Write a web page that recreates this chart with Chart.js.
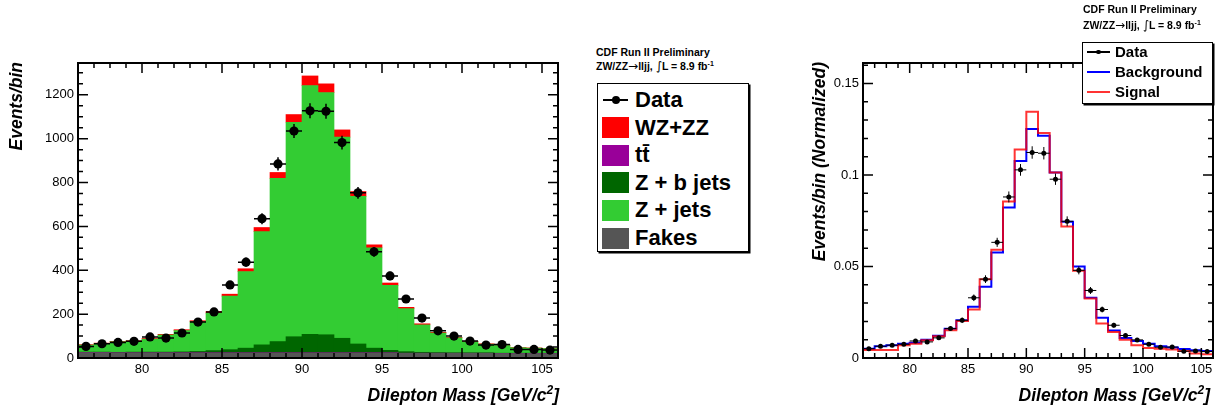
<!DOCTYPE html>
<html>
<head>
<meta charset="utf-8">
<title>Dilepton mass, ZW/ZZ → lljj</title>
<script src="https://cdn.jsdelivr.net/npm/chart.js@4.4.1/dist/chart.umd.min.js"></script>
<style>
  html, body { margin:0; padding:0; background:#fff; }
  body { width:1225px; height:411px; position:relative; overflow:hidden;
         font-family:"Liberation Sans", Arial, Helvetica, sans-serif; color:#000; }
  canvas { position:absolute; top:0; }
  #cLeft { left:0; }
  #cRight { left:780px; }
  .ytitle, .xtitle { position:absolute; font-weight:bold; font-style:italic; font-size:17.5px;
                     line-height:20px; white-space:nowrap; }
  .ytitle { width:300px; text-align:right; transform-origin:0 0; transform:rotate(-90deg); }
  .xtitle sup { font-size:12px; vertical-align:0.55em; line-height:0; }
  .hdr { position:absolute; font-weight:bold; font-size:10.5px; line-height:13px; white-space:nowrap; }
  .hdr sup { font-size:7px; vertical-align:0.55em; line-height:0; }
  .hdr .sym { font-family:"DejaVu Sans", sans-serif; font-weight:normal; font-size:12px; line-height:0; }
  .legend { position:absolute; background:#fff; border:1px solid #000;
            box-shadow:1.5px 1.5px 0 #000; box-sizing:border-box; }
  .row { position:absolute; left:0; right:0; font-weight:bold; white-space:nowrap; }
  .sw { position:absolute; }
  .dot { position:absolute; border-radius:50%; background:#000; }
</style>
</head>
<body>
<canvas id="cLeft" width="580" height="411"></canvas>
<canvas id="cRight" width="445" height="411"></canvas>

<!-- axis titles -->
<div class="ytitle" style="left:6px; top:361.7px;">Events/bin</div>
<div class="xtitle" style="right:666px; top:385px;">Dilepton Mass [GeV/c<sup>2</sup>]</div>
<div class="ytitle" style="left:809px; top:362px;">Events/bin (Normalized)</div>
<div class="xtitle" style="right:15px; top:385px;">Dilepton Mass [GeV/c<sup>2</sup>]</div>

<!-- headers -->
<div class="hdr" style="left:596px; top:45.5px;">CDF Run II Preliminary</div>
<div class="hdr" style="left:596px; top:59.5px;">ZW/ZZ<span class="sym">→</span>lljj, <span class="sym">∫</span>L = 8.9 fb<sup>-1</sup></div>
<div class="hdr" style="left:1083px; top:3px;">CDF Run II Preliminary</div>
<div class="hdr" style="left:1083px; top:18.5px;">ZW/ZZ<span class="sym">→</span>lljj, <span class="sym">∫</span>L = 8.9 fb<sup>-1</sup></div>

<!-- stacked-histogram legend -->
<div class="legend" id="legLeft" style="left:597px; top:83px; width:152px; height:169px;"></div>
<!-- normalized-shape legend -->
<div class="legend" id="legRight" style="left:1082px; top:42px; width:131px; height:62px;"></div>

<script>
// ---- binning (1 GeV/c^2 bins, 76-106) ----
const binCenters = [76.5, 77.5, 78.5, 79.5, 80.5, 81.5, 82.5, 83.5, 84.5, 85.5,
                    86.5, 87.5, 88.5, 89.5, 90.5, 91.5, 92.5, 93.5, 94.5, 95.5,
                    96.5, 97.5, 98.5, 99.5, 100.5, 101.5, 102.5, 103.5, 104.5, 105.5];
const binHalfWidth = 0.5;
const massRange = [76, 106];

// ---- axis ticks ----
const xTickValues = [80, 85, 90, 95, 100, 105];
const xTickLabels = ['80', '85', '90', '95', '100', '105'];
const yTickValuesLeft = [0, 200, 400, 600, 800, 1000, 1200];
const yTickLabelsLeft = ['0', '200', '400', '600', '800', '1000', '1200'];
const yTickValuesRight = [0, 0.05, 0.1, 0.15];
const yTickLabelsRight = ['0', '0.05', '0.1', '0.15'];
const yMaxLeft = 1345;
const yMaxRight = 0.1612;

// ---- stacked expectation, events per bin (bottom to top) ----
const fakes = [24, 24, 23, 23, 23, 23, 22, 22, 22, 22, 22, 22, 22, 22, 22,
               22, 22, 22, 22, 22, 21, 21, 21, 21, 21, 21, 20, 20, 20, 20];
const ttbar = [1, 1, 1, 1, 1, 1, 2, 2, 2, 2, 2, 2, 2, 2, 2,
               2, 2, 2, 2, 2, 1, 1, 1, 1, 1, 1, 1, 1, 1, 1];
const zbJets = [2, 2, 2, 3, 3, 3, 4, 6, 10, 14, 21, 36, 51, 73, 84,
                82, 66, 40, 21, 11, 7, 4, 3, 2, 2, 2, 1, 1, 1, 1];
const zJets = [32, 39, 48, 50, 59, 78, 97, 135, 171, 244, 349, 516, 744, 978, 1134,
               1104, 917, 673, 457, 296, 196, 125, 89, 68, 50, 39, 35, 25, 23, 21];
const wzzz = [2, 2, 2, 2, 3, 3, 4, 5, 7, 9, 13, 19, 27, 35, 44,
              40, 33, 22, 14, 11, 6, 5, 3, 2, 2, 2, 2, 1, 1, 1];

// ---- observed events per bin and their uncertainties ----
const dataCounts = [53, 65, 71, 76, 96, 91, 114, 164, 210, 333, 437, 635, 885, 1035, 1127,
                    1125, 982, 753, 484, 374, 269, 182, 124, 100, 77, 59, 61, 39, 39, 36];
const dataErr = [7, 8, 8, 9, 10, 10, 11, 13, 15, 18, 21, 25, 30, 32, 34,
                 34, 31, 27, 22, 19, 16, 13, 11, 10, 9, 8, 8, 6, 6, 6];

// ---- unit-area shapes ----
const bkgNorm = [0.0051, 0.0064, 0.0069, 0.0078, 0.0084, 0.0100, 0.0122, 0.0160, 0.0206, 0.0280,
                 0.0390, 0.0577, 0.0822, 0.1077, 0.1251, 0.1215, 0.1014, 0.0744, 0.0500, 0.0329,
                 0.0220, 0.0150, 0.0109, 0.0093, 0.0078, 0.0064, 0.0057, 0.0049, 0.0042, 0.0038];
const sigNorm = [0.0044, 0.0044, 0.0044, 0.0069, 0.0078, 0.0097, 0.0119, 0.0151, 0.0202, 0.0265,
                 0.0431, 0.0591, 0.0855, 0.1140, 0.1345, 0.1230, 0.1014, 0.0719, 0.0477, 0.0325,
                 0.0188, 0.0142, 0.0100, 0.0069, 0.0055, 0.0050, 0.0046, 0.0038, 0.0025, 0.0020];
const dataNorm = [0.0051, 0.0064, 0.0070, 0.0075, 0.0093, 0.0088, 0.0110, 0.0161, 0.0206, 0.0329,
                  0.0431, 0.0632, 0.0880, 0.1028, 0.1123, 0.1119, 0.0977, 0.0747, 0.0479, 0.0369,
                  0.0265, 0.0179, 0.0123, 0.0099, 0.0075, 0.0059, 0.0060, 0.0037, 0.0038, 0.0035];
const dataNormErr = [0.0007, 0.0008, 0.0008, 0.0009, 0.0010, 0.0010, 0.0011, 0.0013, 0.0015, 0.0018,
                     0.0021, 0.0025, 0.0030, 0.0032, 0.0034, 0.0034, 0.0031, 0.0027, 0.0022, 0.0019,
                     0.0016, 0.0013, 0.0011, 0.0010, 0.0009, 0.0008, 0.0008, 0.0006, 0.0006, 0.0006];

// ---- colours ----
const colFakes = '#555555', colTT = '#990099', colZb = '#006600', colZj = '#33cc33', colWZ = '#ff0000';
const colBkg = '#0000ff', colSig = 'rgba(255,0,0,0.8)';

const FONT = '"Liberation Sans", Arial, Helvetica, sans-serif';

// ---------- helpers ----------
const pts = (vals) => binCenters.map((c, i) => ({ x: c, y: vals[i] }));
// step outline: rises from zero at the low edge, one flat segment per bin
function stepPts(vals) {
  const out = [{ x: binCenters[0] - binHalfWidth, y: 0 }];
  binCenters.forEach((c, i) => out.push({ x: c - binHalfWidth, y: vals[i] }));
  out.push({ x: binCenters[binCenters.length - 1] + binHalfWidth, y: vals[vals.length - 1] });
  return out;
}
const fixedTicks = (values) => (scale) => { scale.ticks = values.map(v => ({ value: v })); };
const labelFrom = (values, labels) => (v) => {
  const k = values.findIndex(t => Math.abs(t - v) < 1e-9);
  return k >= 0 ? labels[k] : '';
};

// frame with inward-pointing major and minor ticks on all four sides
const frameTicks = {
  id: 'frameTicks',
  afterDatasetsDraw(chart, args, o) {
    const { ctx, chartArea: a, scales: { x, y } } = chart;
    ctx.save();
    ctx.strokeStyle = '#000';
    ctx.lineWidth = 1.5;
    ctx.beginPath();
    const nx = Math.round((x.max - x.min) / o.xStep);
    for (let i = 0; i <= nx; i++) {
      const v = x.min + i * o.xStep;
      const r = v / o.xMajor;
      const L = Math.abs(r - Math.round(r)) < 1e-6 ? 10 : 5;
      const px = x.getPixelForValue(v);
      ctx.moveTo(px, a.bottom); ctx.lineTo(px, a.bottom - L);
      ctx.moveTo(px, a.top); ctx.lineTo(px, a.top + L);
    }
    const ny = Math.floor((y.max - y.min) / o.yStep + 1e-6);
    for (let i = 0; i <= ny; i++) {
      const v = y.min + i * o.yStep;
      const r = v / o.yMajor;
      const L = Math.abs(r - Math.round(r)) < 1e-6 ? 10 : 5;
      const py = y.getPixelForValue(v);
      ctx.moveTo(a.left, py); ctx.lineTo(a.left + L, py);
      ctx.moveTo(a.right, py); ctx.lineTo(a.right - L, py);
    }
    ctx.stroke();
    ctx.lineWidth = 2;
    ctx.strokeRect(a.left, a.top, a.right - a.left, a.bottom - a.top);
    ctx.restore();
  }
};

// horizontal (bin width) and vertical (uncertainty) bars on the data points
const errorBars = {
  id: 'errorBars',
  afterDatasetsDraw(chart, args, o) {
    const { ctx, scales: { x, y } } = chart;
    ctx.save();
    ctx.strokeStyle = '#000';
    ctx.lineWidth = o.width;
    ctx.beginPath();
    binCenters.forEach((c, i) => {
      const v = o.values[i], e = o.errors[i];
      const py = y.getPixelForValue(v), px = x.getPixelForValue(c);
      ctx.moveTo(x.getPixelForValue(c - binHalfWidth), py);
      ctx.lineTo(x.getPixelForValue(c + binHalfWidth), py);
      ctx.moveTo(px, y.getPixelForValue(v - e));
      ctx.lineTo(px, y.getPixelForValue(v + e));
    });
    ctx.stroke();
    ctx.restore();
  }
};

function axes(yMax, yVals, yLabels, yWidth) {
  return {
    x: {
      type: 'linear', min: massRange[0], max: massRange[1], offset: false, stacked: true,
      grid: { display: false, drawTicks: false, offset: false }, border: { display: false },
      afterBuildTicks: fixedTicks(xTickValues),
      afterFit: (s) => { s.height = 53; },
      ticks: { autoSkip: false, maxRotation: 0, padding: 4, color: '#000',
               font: { family: FONT, size: 13 }, callback: labelFrom(xTickValues, xTickLabels) }
    },
    y: {
      type: 'linear', min: 0, max: yMax, stacked: true,
      grid: { display: false, drawTicks: false }, border: { display: false },
      afterBuildTicks: fixedTicks(yVals),
      afterFit: (s) => { s.width = yWidth; },
      ticks: { autoSkip: false, padding: 4, color: '#000',
               font: { family: FONT, size: 13 }, callback: labelFrom(yVals, yLabels) }
    }
  };
}

// ---------- stacked expectation with data ----------
const barDs = (label, vals, color) => ({
  type: 'bar', label, data: pts(vals), backgroundColor: color, borderWidth: 0,
  barPercentage: 1, categoryPercentage: 1
});

new Chart(document.getElementById('cLeft'), {
  type: 'bar',
  data: {
    datasets: [
      barDs('Fakes', fakes, colFakes),
      barDs('tt̄', ttbar, colTT),
      barDs('Z + b jets', zbJets, colZb),
      barDs('Z + jets', zJets, colZj),
      barDs('WZ+ZZ', wzzz, colWZ),
      { type: 'scatter', label: 'Data', stack: 'data', order: -1, data: pts(dataCounts),
        pointRadius: 4.6, pointBackgroundColor: '#000', pointBorderWidth: 0 }
    ]
  },
  options: {
    responsive: false, animation: false,
    layout: { padding: { left: 0, top: 63, right: 22, bottom: 0 } },
    scales: axes(yMaxLeft, yTickValuesLeft, yTickLabelsLeft, 78),
    plugins: {
      legend: { display: false }, tooltip: { enabled: false },
      frameTicks: { xStep: 1, xMajor: 5, yStep: 50, yMajor: 200 },
      errorBars: { values: dataCounts, errors: dataErr, width: 1.5 }
    }
  },
  plugins: [frameTicks, errorBars]
});

// ---------- unit-area comparison ----------
const rightScales = axes(yMaxRight, yTickValuesRight, yTickLabelsRight, 83);
rightScales.x.stacked = false;
rightScales.y.stacked = false;

new Chart(document.getElementById('cRight'), {
  type: 'line',
  data: {
    datasets: [
      { label: 'Data', type: 'scatter', order: 0, data: pts(dataNorm),
        pointRadius: 2.5, pointBackgroundColor: '#000', pointBorderWidth: 0 },
      { label: 'Signal', order: 1, data: stepPts(sigNorm), stepped: 'before',
        borderColor: colSig, borderWidth: 2, pointRadius: 0, fill: false },
      { label: 'Background', order: 2, data: stepPts(bkgNorm), stepped: 'before',
        borderColor: colBkg, borderWidth: 2, pointRadius: 0, fill: false }
    ]
  },
  options: {
    responsive: false, animation: false,
    layout: { padding: { left: 0, top: 63, right: 12, bottom: 0 } },
    scales: rightScales,
    plugins: {
      legend: { display: false }, tooltip: { enabled: false },
      frameTicks: { xStep: 1, xMajor: 5, yStep: 0.01, yMajor: 0.05 },
      errorBars: { values: dataNorm, errors: dataNormErr, width: 1 }
    }
  },
  plugins: [frameTicks, errorBars]
});

// ---------- legends ----------
function addRow(box, top, h, fontPx, textLeft, text) {
  const r = document.createElement('div');
  r.className = 'row';
  r.style.top = top + 'px';
  r.style.height = h + 'px';
  r.style.lineHeight = h + 'px';
  r.style.fontSize = fontPx + 'px';
  r.style.paddingLeft = textLeft + 'px';
  r.textContent = text;
  box.appendChild(r);
  return r;
}
function addSwatch(box, left, top, w, h, color) {
  const s = document.createElement('div');
  s.className = 'sw';
  Object.assign(s.style, { left: left + 'px', top: top + 'px', width: w + 'px', height: h + 'px', background: color });
  box.appendChild(s);
}
function addDataMarker(box, left, cy, w, lw, dotD) {
  addSwatch(box, left, cy - lw / 2, w, lw, '#000');
  const d = document.createElement('div');
  d.className = 'dot';
  Object.assign(d.style, { left: (left + w / 2 - dotD / 2) + 'px', top: (cy - dotD / 2) + 'px',
                           width: dotD + 'px', height: dotD + 'px' });
  box.appendChild(d);
}

const legLeftEntries = [
  { text: 'Data', kind: 'data' },
  { text: 'WZ+ZZ', color: colWZ },
  { text: 'tt\u0304', color: colTT },
  { text: 'Z + b jets', color: colZb },
  { text: 'Z + jets', color: colZj },
  { text: 'Fakes', color: colFakes }
];
const legL = document.getElementById('legLeft');
legLeftEntries.forEach((e, i) => {
  const cy = 16 + i * 27.6;
  addRow(legL, cy - 14, 28, 22, 37, e.text);
  if (e.kind === 'data') addDataMarker(legL, 5, cy, 25, 1.5, 8);
  else addSwatch(legL, 4, cy - 10.5, 27, 21, e.color);
});

const legRightEntries = [
  { text: 'Data', kind: 'data' },
  { text: 'Background', color: colBkg },
  { text: 'Signal', color: colSig }
];
const legR = document.getElementById('legRight');
legRightEntries.forEach((e, i) => {
  const cy = 9 + i * 20;
  addRow(legR, cy - 10, 20, 15, 32, e.text);
  if (e.kind === 'data') addDataMarker(legR, 4, cy, 23, 1.2, 4.5);
  else addSwatch(legR, 4, cy - 1, 23, 2, e.color);
});
</script>
</body>
</html>
